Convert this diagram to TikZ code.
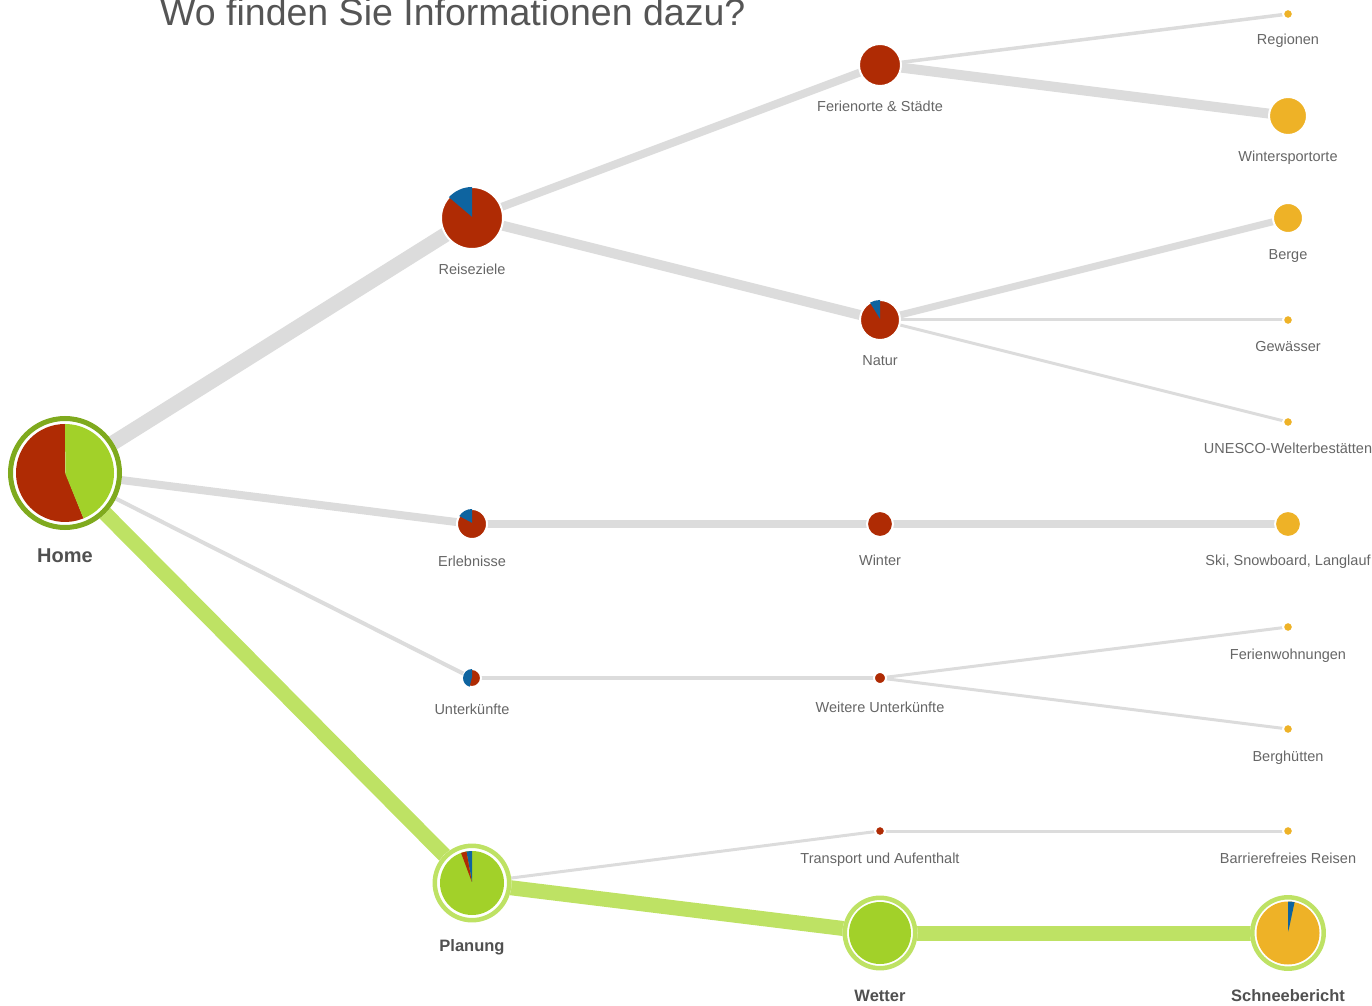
\documentclass[tikz,border=0pt]{standalone}
\usepackage{fontspec}
\setmainfont{Liberation Sans}
\definecolor{cred}{HTML}{AF2B04}
\definecolor{cblue}{HTML}{0E64A0}
\definecolor{cgreen}{HTML}{A2D129}
\definecolor{cyellow}{HTML}{EEB227}
\definecolor{cgray}{HTML}{DCDCDC}
\definecolor{clgreen}{HTML}{BEE264}
\definecolor{cring}{HTML}{7FAA1E}
\definecolor{ctext}{HTML}{666666}
\definecolor{cbold}{HTML}{505050}
\definecolor{ctitle}{HTML}{555555}
\newcommand{\myslice}[5]{\fill[#5] (#1) -- ++(#2:#4) arc[start angle=#2, end angle=#3, radius=#4] -- cycle;}
\newcommand{\mydisc}[3]{\fill[#3, draw=white, line width=2pt] (#1) circle[radius=#2];}
\begin{document}
\begin{tikzpicture}[x=1pt,y=1pt,
  pt/.style={circle, inner sep=0pt, minimum size=2pt},
  lab/.style={anchor=base, inner sep=0pt, text=ctext, font=\fontsize{14.5}{17}\selectfont},
  blab/.style={anchor=base, inner sep=0pt, text=cbold, font=\fontsize{16.5}{19}\selectfont\bfseries},
  edge/.style={draw=cgray},
  gedge/.style={draw=clgreen, line width=15pt}]
\useasboundingbox (0,0) rectangle (1372,1005);
% title
\node[anchor=base west, inner sep=0pt, text=ctitle, font=\fontsize{37.5}{40}\selectfont] (title) at (160,979) {Wo finden Sie Informationen dazu?};
% node centres
\node[pt] (home) at (65,532) {};
\node[pt] (reise) at (472,787) {};
\node[pt] (ferien) at (880,940) {};
\node[pt] (natur) at (880,685) {};
\node[pt] (regionen) at (1288,991) {};
\node[pt] (winters) at (1288,889) {};
\node[pt] (berge) at (1288,787) {};
\node[pt] (gewaesser) at (1288,685) {};
\node[pt] (unesco) at (1288,583) {};
\node[pt] (erleb) at (472,481) {};
\node[pt] (winter) at (880,481) {};
\node[pt] (ski) at (1288,481) {};
\node[pt] (unterk) at (472,327) {};
\node[pt] (weitere) at (880,327) {};
\node[pt] (fewo) at (1288,378) {};
\node[pt] (berghuet) at (1288,276) {};
\node[pt] (transport) at (880,174) {};
\node[pt] (barriere) at (1288,174) {};
\node[pt] (planung) at (472,122) {};
\node[pt] (wetter) at (880,72) {};
\node[pt] (schnee) at (1288,72) {};
% connectors
\draw[edge, line width=15pt] (home.center) -- (reise.center);
\draw[edge, line width=8pt] (home.center) -- (erleb.center);
\draw[edge, line width=4pt] (home.center) -- (unterk.center);
\draw[edge, line width=8pt] (reise.center) -- (ferien.center);
\draw[edge, line width=10pt] (reise.center) -- (natur.center);
\draw[edge, line width=3.5pt] (ferien.center) -- (regionen.center);
\draw[edge, line width=10pt] (ferien.center) -- (winters.center);
\draw[edge, line width=7pt] (natur.center) -- (berge.center);
\draw[edge, line width=3pt] (natur.center) -- (gewaesser.center);
\draw[edge, line width=3pt] (natur.center) -- (unesco.center);
\draw[edge, line width=8pt] (erleb.center) -- (winter.center);
\draw[edge, line width=8pt] (winter.center) -- (ski.center);
\draw[edge, line width=4pt] (unterk.center) -- (weitere.center);
\draw[edge, line width=3pt] (weitere.center) -- (fewo.center);
\draw[edge, line width=3pt] (weitere.center) -- (berghuet.center);
\draw[edge, line width=3pt] (planung.center) -- (transport.center);
\draw[edge, line width=3pt] (transport.center) -- (barriere.center);
\draw[gedge] (home.center) -- (planung.center);
\draw[gedge] (planung.center) -- (wetter.center);
\draw[gedge] (wetter.center) -- (schnee.center);
% Home
\fill[white] (home) circle[radius=57];
\draw[cring, line width=5pt] (home) circle[radius=54.5];
\myslice{home}{90}{292.2}{49}{cred}
\myslice{home}{-67.8}{90}{49}{cgreen}
% Reiseziele
\mydisc{reise}{31}{cred}
\myslice{reise}{90}{138}{31}{cblue}
% Ferienorte
\mydisc{ferien}{21}{cred}
% Natur
\mydisc{natur}{20}{cred}
\myslice{natur}{90}{120}{20}{cblue}
% leaves top
\mydisc{regionen}{5}{cyellow}
\mydisc{winters}{19}{cyellow}
\mydisc{berge}{15}{cyellow}
\mydisc{gewaesser}{5}{cyellow}
\mydisc{unesco}{5}{cyellow}
% Erlebnisse row
\mydisc{erleb}{15}{cred}
\myslice{erleb}{90}{148}{15}{cblue}
\mydisc{winter}{13}{cred}
\mydisc{ski}{13}{cyellow}
% Unterkuenfte row
\mydisc{unterk}{9}{cred}
\myslice{unterk}{90}{255}{9}{cblue}
\mydisc{weitere}{6}{cred}
\mydisc{fewo}{5}{cyellow}
\mydisc{berghuet}{5}{cyellow}
% Planung row
\mydisc{transport}{5}{cred}
\mydisc{barriere}{5}{cyellow}
\fill[white] (planung) circle[radius=39.5];
\draw[clgreen, line width=4.5pt] (planung) circle[radius=37.2];
\fill[cgreen] (planung) circle[radius=32];
\myslice{planung}{90}{100}{32}{cblue}
\myslice{planung}{100}{110}{32}{cred}
\fill[white] (wetter) circle[radius=37.5];
\draw[clgreen, line width=4.5pt] (wetter) circle[radius=35.2];
\fill[cgreen] (wetter) circle[radius=31];
\fill[white] (schnee) circle[radius=38];
\draw[clgreen, line width=4.5pt] (schnee) circle[radius=35.7];
\fill[cyellow] (schnee) circle[radius=31.5];
\myslice{schnee}{78}{90}{31.5}{cblue}
% labels
\node[lab] (lregionen) at (1288,960) {Regionen};
\node[lab] (lferien) at (880,893) {Ferienorte \& Städte};
\node[lab] (lwinters) at (1288,843) {Wintersportorte};
\node[lab] (lberge) at (1288,745) {Berge};
\node[lab] (lreise) at (472,730) {Reiseziele};
\node[lab] (lgew) at (1288,653) {Gewässer};
\node[lab] (lnatur) at (880,639) {Natur};
\node[lab] (lunesco) at (1288,551) {UNESCO-Welterbestätten};
\node[blab, font=\fontsize{20}{23}\selectfont\bfseries] (lhome) at (65,443) {Home};
\node[lab] (lerleb) at (472,439) {Erlebnisse};
\node[lab] (lwinter) at (880,440) {Winter};
\node[lab] (lski) at (1288,440) {Ski, Snowboard, Langlauf};
\node[lab] (lfewo) at (1288,346) {Ferienwohnungen};
\node[lab] (lweitere) at (880,293) {Weitere Unterkünfte};
\node[lab] (lunterk) at (472,291) {Unterkünfte};
\node[lab] (lberghuet) at (1288,244) {Berghütten};
\node[lab] (ltransport) at (880,142) {Transport und Aufenthalt};
\node[lab] (lbarriere) at (1288,142) {Barrierefreies Reisen};
\node[blab] (lplanung) at (472,54) {Planung};
\node[blab] (lwetter) at (880,4) {Wetter};
\node[blab] (lschnee) at (1288,4) {Schneebericht};
\end{tikzpicture}
\end{document}
